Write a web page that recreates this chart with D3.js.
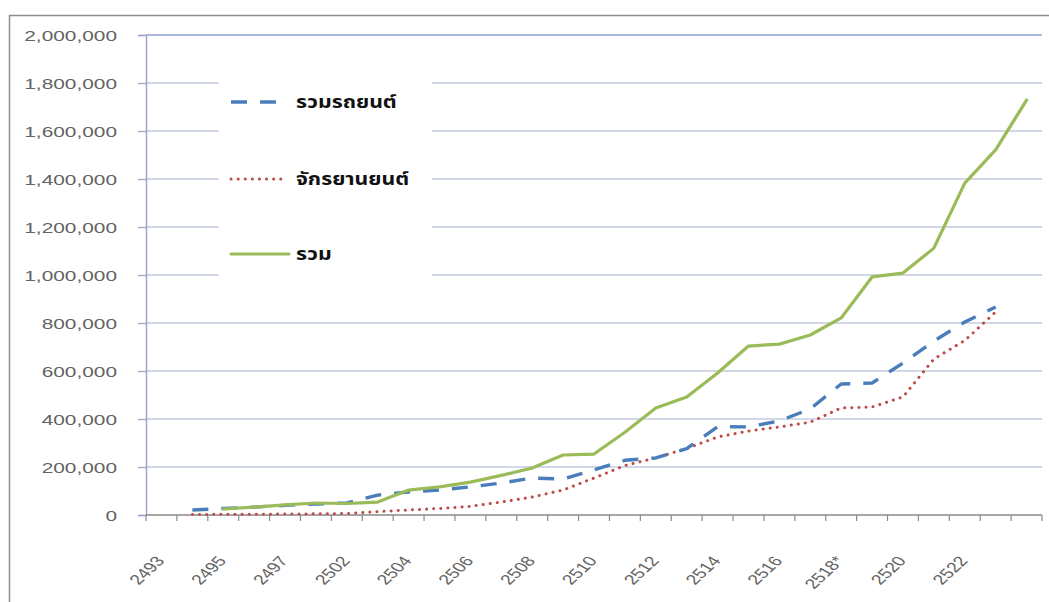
<!DOCTYPE html>
<html>
<head>
<meta charset="utf-8">
<script src="https://cdn.jsdelivr.net/npm/d3@7"></script>
<style>
  html, body { margin: 0; padding: 0; background: #fff; }
  svg { display: block; }
  .lbl { font-family: Arial, "Liberation Sans", sans-serif; font-size: 15px; fill: #636363; }
  .xlbl { font-family: Arial, "Liberation Sans", sans-serif; font-size: 14px; fill: #636363; }
  .leg { font-family: "Noto Sans Thai", "Loma", "Garuda", "Tahoma", "Noto Sans", sans-serif; font-size: 17px; font-weight: bold; fill: #111; }
</style>
</head>
<body>
<svg id="chart" width="1049" height="602"></svg>
<script>
// Registered vehicles by year (Buddhist Era)
const categories = ["2493","2494","2495","2496","2497","2501","2502","2503","2504","2505",
                    "2506","2507","2508","2509","2510","2511","2512","2513","2514","2515",
                    "2516","2517","2518*","2519","2520","2521","2522","2523","2524"];
const xTickLabels = ["2493","2495","2497","2502","2504","2506","2508","2510","2512","2514",
                     "2516","2518*","2520","2522"];
const yTicks = [0, 200000, 400000, 600000, 800000, 1000000, 1200000, 1400000, 1600000, 1800000, 2000000];

const cars = [null, 21000, 27000, 33000, 40000, 46000, 50000, 83000, 96000, 104000,
              117000, 133000, 154000, 150000, 188000, 228000, 238000, 277000, 368000, 367000,
              392000, 442000, 546000, 550000, 633000, 725000, 804000, 867000, null];
const motorcycles = [null, 2000, 3000, 3000, 4000, 5000, 6000, 14000, 21000, 27000,
                     36000, 54000, 75000, 104000, 154000, 206000, 238000, 277000, 325000, 350000,
                     367000, 387000, 446000, 450000, 492000, 650000, 727000, 846000, null];
const total = [null, null, 25000, 33000, 42000, 50000, 48000, 54000, 104000, 117000,
               137000, 165000, 196000, 250000, 254000, 345000, 446000, 492000, 592000, 704000,
               712000, 750000, 821000, 992000, 1008000, 1112000, 1383000, 1521000, 1729000];

const seriesNames = ["รวมรถยนต์", "จักรยานยนต์", "รวม"];
const seriesColors = ["#4a7ebb", "#be4b48", "#9bbb59"];

const svg = d3.select("#chart");
const plot = { left: 146, right: 1042, top: 35, bottom: 515 };
const stretch = 1.39; // horizontal stretch applied to text

// outer frame
svg.append("rect")
  .attr("x", 9.5).attr("y", 15.5).attr("width", 1060).attr("height", 600)
  .attr("fill", "#fff").attr("stroke", "#8e8e8e").attr("stroke-width", 1.5);

const x = d3.scaleBand().domain(categories).range([plot.left, plot.right]).padding(0);
const y = d3.scaleLinear().domain([0, 2000000]).range([plot.bottom, plot.top]);
const cx = c => x(c) + x.bandwidth() / 2;

// horizontal gridlines
svg.append("g").selectAll("line")
  .data(yTicks.filter(d => d > 0))
  .join("line")
  .attr("x1", plot.left).attr("x2", plot.right)
  .attr("y1", d => y(d)).attr("y2", d => y(d))
  .attr("stroke", d => d === 2000000 ? "#a9bade" : "#c3cbe0")
  .attr("stroke-width", d => d === 2000000 ? 2 : 1.6);

// y axis
const yAxis = svg.append("g")
  .attr("transform", `translate(${plot.left},0)`)
  .call(d3.axisLeft(y).tickValues(yTicks).tickSize(8).tickFormat(d3.format(",")));
yAxis.select(".domain").attr("stroke", "#9aa6c4").attr("stroke-width", 1.5);
yAxis.selectAll(".tick line").attr("stroke", "#9aa6c4").attr("stroke-width", 1.2);
yAxis.selectAll(".tick text").remove();
yAxis.selectAll(".tick").append("g")
  .attr("transform", `translate(-29,0) scale(${stretch},1)`)
  .append("text")
  .attr("class", "lbl")
  .attr("text-anchor", "end")
  .attr("dy", "0.36em")
  .text(d => d3.format(",")(d));

// x axis: ticks at category boundaries
const xAxis = svg.append("g");
xAxis.append("line")
  .attr("x1", plot.left).attr("x2", plot.right)
  .attr("y1", plot.bottom).attr("y2", plot.bottom)
  .attr("stroke", "#8a8a8a").attr("stroke-width", 1.3);
const boundaries = categories.map(c => x(c)).concat([plot.right]);
xAxis.selectAll("line.tk")
  .data(boundaries)
  .join("line")
  .attr("class", "tk")
  .attr("x1", d => d).attr("x2", d => d)
  .attr("y1", plot.bottom).attr("y2", plot.bottom + 6)
  .attr("stroke", "#8a8a8a").attr("stroke-width", 1.2);
xAxis.selectAll("g.xl")
  .data(xTickLabels)
  .join("g")
  .attr("class", "xl")
  .attr("transform", d => `translate(${cx(d) + 4},${plot.bottom + 46}) scale(${stretch},1) rotate(-52)`)
  .append("text")
  .attr("class", "xlbl")
  .attr("text-anchor", "end")
  .text(d => d);

// series lines
const line = d3.line()
  .defined(d => d.v != null)
  .x(d => cx(d.c))
  .y(d => y(d.v));
const toPts = arr => categories.map((c, i) => ({ c, v: arr[i] }));

const styles = [
  { data: cars, dash: "16,13", width: 3.4, cap: "butt" },
  { data: motorcycles, dash: "0.1,7", width: 3, cap: "round" },
  { data: total, dash: null, width: 3.2, cap: "round" }
];
// draw order: motorcycles, cars, total
[1, 0, 2].forEach(i => {
  const s = styles[i];
  svg.append("path")
    .datum(toPts(s.data))
    .attr("fill", "none")
    .attr("stroke", seriesColors[i])
    .attr("stroke-width", s.width)
    .attr("stroke-linecap", s.cap)
    .attr("stroke-linejoin", "round")
    .attr("stroke-dasharray", s.dash)
    .attr("d", line);
});

// legend
const legend = svg.append("g");
legend.append("rect")
  .attr("x", 219).attr("y", 76).attr("width", 213).attr("height", 208)
  .attr("fill", "#fff");
const legY = [102, 179, 254];
seriesNames.forEach((name, i) => {
  const s = styles[i];
  legend.append("line")
    .attr("x1", 231).attr("x2", i === 2 ? 289 : 283)
    .attr("y1", legY[i]).attr("y2", legY[i])
    .attr("stroke", seriesColors[i])
    .attr("stroke-width", s.width)
    .attr("stroke-linecap", s.cap)
    .attr("stroke-dasharray", s.dash);
  legend.append("g")
    .attr("transform", `translate(296,${legY[i] + 6}) scale(1.25,1)`)
    .append("text")
    .attr("class", "leg")
    .text(name);
});
</script>
</body>
</html>
